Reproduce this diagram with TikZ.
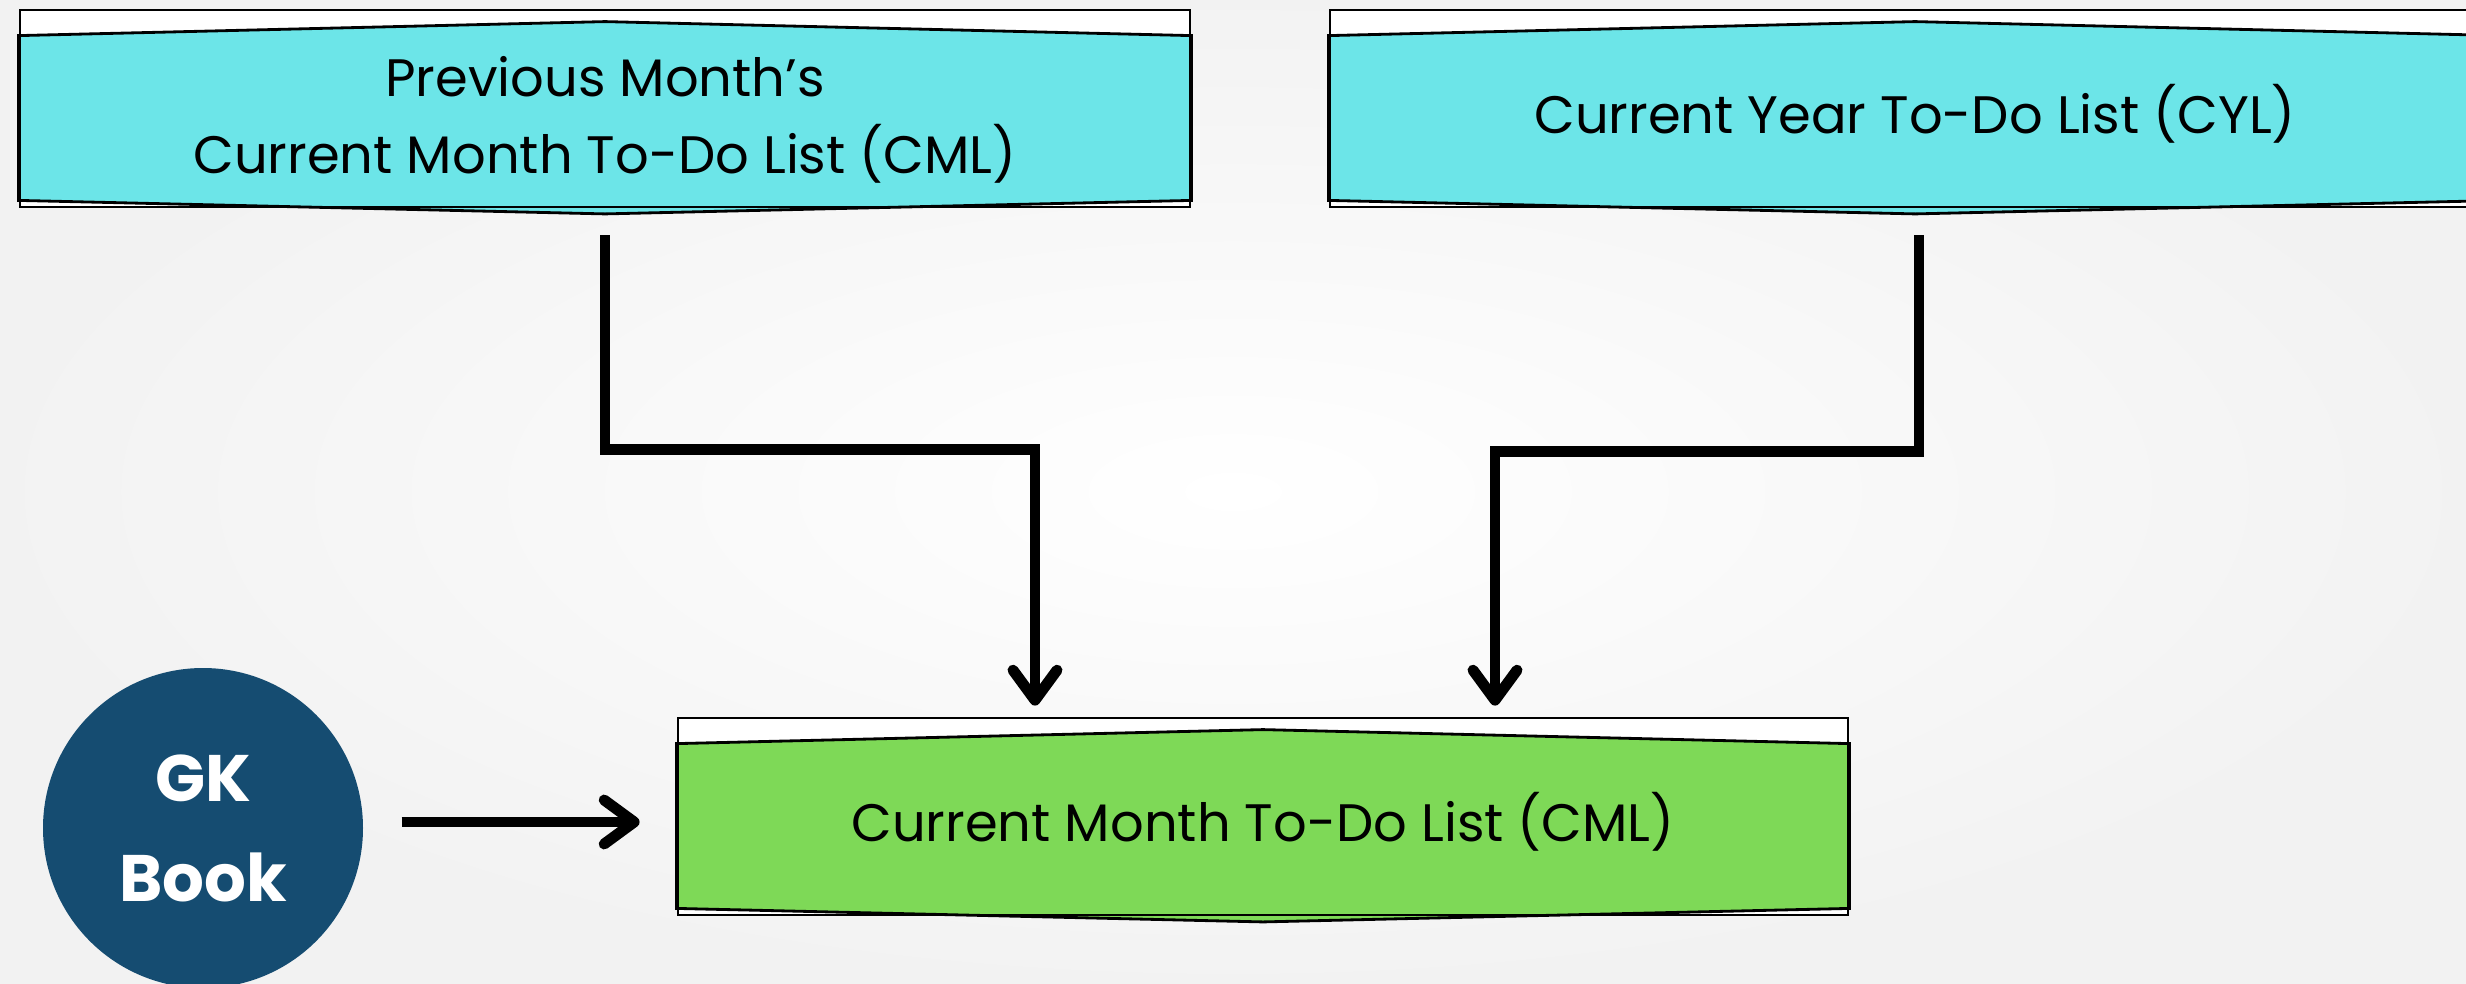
\documentclass[tikz,border=0pt]{standalone}
\usepackage{fontspec}
\setmainfont{Poppins}
\usetikzlibrary{arrows.meta,calc,backgrounds}

\definecolor{ribboncyan}{RGB}{108,229,232}
\definecolor{ribbongreen}{RGB}{126,217,87}
\definecolor{booknavy}{RGB}{21,76,113}

% white strip box with a coloured ribbon across it
\newcommand{\ribbon}[2]{%
  \fill[white] (#1.north west) rectangle (#1.south east);
  \filldraw[fill=#2, draw=black, line width=0.8pt]
    ($(#1.north west)+(0,-0.27)$) -- ($(#1.north)+(0,-0.13)$) -- ($(#1.north east)+(0,-0.27)$)
    -- ($(#1.south east)+(0,0.08)$) -- ($(#1.south)+(0,-0.055)$) -- ($(#1.south west)+(0,0.08)$) -- cycle;
}

\begin{document}
\begin{tikzpicture}[
    listbox/.style={draw=black, line width=0.8pt, minimum width=11.7cm, minimum height=1.97cm,
      inner sep=0pt, align=center, font=\fontsize{15}{22}\selectfont},
    onerow/.style={text height=0.62cm, text depth=0.13cm},
    flow/.style={line width=3.1pt, -{Straight Barb[length=3mm, width=4.4mm, round]}}
  ]
        \useasboundingbox (0,0) rectangle (24.66,9.83);

        % Draw the list boxes
        \node[listbox] (prev) at (6.05,8.745)
          {\rule{0pt}{0.66cm}Previous Month’s\\Current Month To-Do List (CML)\rule[-0.13cm]{0pt}{0.13cm}};
        \node[listbox, onerow] (cyl) at (19.15,8.745) {Current Year To-Do List (CYL)};
        \node[listbox, onerow] (cml) at (12.63,1.665) {Current Month To-Do List (CML)};

        % Draw the book
        \node[circle, fill=booknavy, minimum size=3.2cm, inner sep=0pt, text=white, align=center,
          font=\fontsize{18.7}{28.5}\selectfont\bfseries] (gk) at (2.03,1.55) {GK\\Book};

        % Ribbons behind the text
        \begin{scope}[on background layer]
          \shade[inner color=white, outer color=black!5] (0,0) rectangle (24.66,9.83);
          \ribbon{prev}{ribboncyan}
          \ribbon{cyl}{ribboncyan}
          \ribbon{cml}{ribbongreen}
        \end{scope}

        % Draw the arrows
        \coordinate (inL) at ($(cml.north)+(-2.28,0)$);
        \coordinate (inR) at ($(cml.north)+(2.32,0)$);
        \coordinate (gkout) at ($(gk.east)+(0,0.06)$);
        \draw[flow, shorten <=0.27cm, shorten >=0.11cm] (prev.south) -- ++(0,-2.41) -| (inL);
        \draw[flow, shorten <=0.27cm, shorten >=0.11cm] ($(cyl.south)+(0.04,0)$) -- ++(0,-2.43) -| (inR);
        \draw[flow, shorten <=0.38cm, shorten >=0.37cm] (gkout) -- (gkout -| cml.west);

\end{tikzpicture}
\end{document}
